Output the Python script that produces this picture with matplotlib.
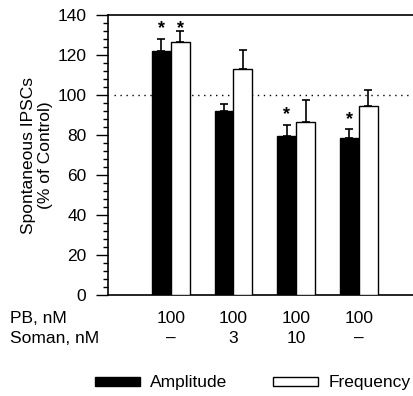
import matplotlib
matplotlib.use('Agg')
import matplotlib.pyplot as plt
import numpy as np
from matplotlib.ticker import MultipleLocator

plt.rcParams['font.family'] = ['Liberation Sans', 'DejaVu Sans']
plt.rcParams['font.size'] = 12.5

# data
pb_labels = ['100', '100', '100', '100']
soman_labels = ['\u2013', '3', '10', '\u2013']
amplitude = [122.2, 92.1, 79.7, 78.5]
amplitude_err = [6.0, 3.5, 5.5, 4.4]
frequency = [126.7, 113.1, 86.7, 94.7]
frequency_err = [5.5, 9.6, 10.7, 8.1]
amp_sig = [True, False, True, True]
freq_sig = [True, False, False, False]

x = np.arange(1, len(amplitude) + 1)
w = 0.30

fig = plt.figure(figsize=(4.14, 3.96), dpi=100)
ax = fig.add_axes([0.261, 0.256, 0.745, 0.705])

ax.bar(x - w / 2, amplitude, w, color='black', edgecolor='black', linewidth=1,
       label='Amplitude', zorder=3)
ax.bar(x + w / 2, frequency, w, color='white', edgecolor='black', linewidth=1,
       label='Frequency', zorder=3)
ax.errorbar(x - w / 2, amplitude, yerr=[np.zeros(4), amplitude_err], fmt='none',
            ecolor='black', elinewidth=1.2, capsize=3, capthick=1.2, zorder=2)
ax.errorbar(x + w / 2, frequency, yerr=[np.zeros(4), frequency_err], fmt='none',
            ecolor='black', elinewidth=1.2, capsize=3, capthick=1.2, zorder=2)

# significance stars
for i in range(len(x)):
    if amp_sig[i]:
        ax.text(x[i] - w / 2, amplitude[i] + amplitude_err[i] + 5, '*',
                ha='center', va='center', fontsize=13, fontweight='bold')
    if freq_sig[i]:
        ax.text(x[i] + w / 2, amplitude[0] + amplitude_err[0] + 5, '*',
                ha='center', va='center', fontsize=13, fontweight='bold')

ax.axhline(100, xmin=0.02, xmax=1, color='black', linestyle=(0, (1, 3.3)),
           linewidth=1, zorder=1)

ax.set_xlim(0, 4.92)
ax.set_ylim(0, 140)
ax.yaxis.set_major_locator(MultipleLocator(20))
ax.yaxis.set_minor_locator(MultipleLocator(4))
ax.tick_params(axis='y', which='major', direction='out', length=8.6, width=1, pad=7)
ax.tick_params(axis='y', which='minor', direction='out', length=3.6, width=1)
ax.set_xticks([])
for s in ['left', 'top', 'bottom']:
    ax.spines[s].set_linewidth(1.2)
ax.spines['right'].set_visible(False)
ax.set_ylabel('Spontaneous IPSCs\n(% of Control)', labelpad=3)

# condition labels below the axis
trans = ax.get_xaxis_transform()
ax.text(-1.57, -0.084, 'PB, nM', transform=trans, ha='left', va='center', clip_on=False)
ax.text(-1.57, -0.156, 'Soman, nM', transform=trans, ha='left', va='center', clip_on=False)
for i in range(len(x)):
    ax.text(x[i], -0.084, pb_labels[i], transform=trans, ha='center', va='center')
    ax.text(x[i], -0.156, soman_labels[i], transform=trans, ha='center', va='center')

fig.legend(loc='center', bbox_to_anchor=(0.61, 0.033), ncol=2, frameon=False,
           handlelength=2.6, handleheight=0.45, handletextpad=0.6, columnspacing=2.6)

plt.savefig('out.png', dpi=100)
